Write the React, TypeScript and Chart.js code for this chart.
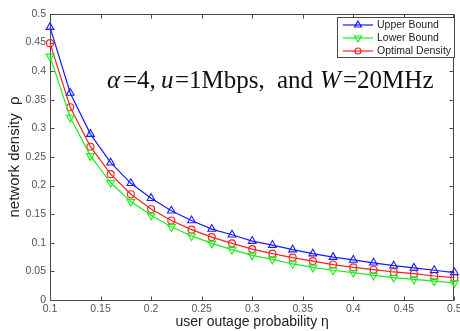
import React, { useEffect, useRef } from "react";
import { Chart, registerables } from "chart.js";

Chart.register(...registerables);

const eta = [0.1, 0.12, 0.14, 0.16, 0.18, 0.2, 0.22, 0.24, 0.26, 0.28, 0.3, 0.32, 0.34, 0.36, 0.38, 0.4, 0.42, 0.44, 0.46, 0.48, 0.5];
const upperBound = [0.477, 0.362, 0.29, 0.24, 0.204, 0.178, 0.156, 0.139, 0.124, 0.114, 0.103, 0.096, 0.088, 0.081, 0.075, 0.07, 0.065, 0.06, 0.056, 0.052, 0.048];
const lowerBound = [0.426, 0.319, 0.252, 0.205, 0.172, 0.148, 0.128, 0.112, 0.099, 0.088, 0.078, 0.071, 0.063, 0.057, 0.052, 0.048, 0.043, 0.039, 0.036, 0.033, 0.03];
const optimalDensity = [0.449, 0.337, 0.268, 0.22, 0.185, 0.159, 0.139, 0.123, 0.11, 0.099, 0.089, 0.081, 0.074, 0.068, 0.062, 0.057, 0.053, 0.049, 0.046, 0.042, 0.039];

const seriesNames = ["Upper Bound", "Lower Bound", "Optimal Density"];
const xTickValues = [0.1, 0.15, 0.2, 0.25, 0.3, 0.35, 0.4, 0.45, 0.5];
const yTickValues = [0, 0.05, 0.1, 0.15, 0.2, 0.25, 0.3, 0.35, 0.4, 0.45, 0.5];
const xTitle = "user outage probability \u03b7";
const yTitle = "network density  \u03c1";
const annotationParts: [string, boolean][] = [
  ["\u03b1", true],
  ["=4,", false],
  ["u", true],
  ["=1Mbps,", false],
  ["and", false],
  ["W", true],
  ["=20MHz", false],
];
const annotationStarts = [107, 123, 161, 175, 277, 320, 343];

const fmt = (v: number) => String(Number(v.toFixed(2)));

function drawMarker(ctx: CanvasRenderingContext2D, style: string, rot: number, x: number, y: number, r: number) {
  ctx.beginPath();
  if (style === "circle") {
    ctx.arc(x, y, r, 0, Math.PI * 2);
  } else {
    const s = rot === 180 ? -1 : 1;
    ctx.moveTo(x, y - s * r);
    ctx.lineTo(x + r * 0.866, y + s * r * 0.5);
    ctx.lineTo(x - r * 0.866, y + s * r * 0.5);
    ctx.closePath();
  }
  ctx.stroke();
}

const framePlugin = {
  id: "frame",
  beforeDatasetsDraw(chart: any) {
    const { ctx, chartArea, scales } = chart;
    const { left, right, top, bottom } = chartArea;
    ctx.save();
    ctx.strokeStyle = "#4a4a4a";
    ctx.lineWidth = 1;
    const L = Math.round(left) + 0.5;
    const R = Math.round(right) - 0.5;
    const T = Math.round(top) + 0.5;
    const B = Math.round(bottom) + 0.5;
    ctx.strokeRect(L, T, R - L, B - T);
    ctx.beginPath();
    for (const v of xTickValues) {
      const px = Math.round(scales.x.getPixelForValue(v)) + 0.5;
      ctx.moveTo(px, B);
      ctx.lineTo(px, B - 4);
      ctx.moveTo(px, T);
      ctx.lineTo(px, T + 4);
    }
    for (const v of yTickValues) {
      const py = Math.round(scales.y.getPixelForValue(v)) + 0.5;
      ctx.moveTo(L, py);
      ctx.lineTo(L + 4, py);
      ctx.moveTo(R, py);
      ctx.lineTo(R - 4, py);
    }
    ctx.stroke();
    ctx.restore();
  },
  afterDraw(chart: any) {
    const { ctx } = chart;
    ctx.save();
    // annotation text
    const base = 88;
    ctx.fillStyle = "#111";
    ctx.textBaseline = "alphabetic";
    ctx.textAlign = "left";
    annotationParts.forEach(([t, it], i) => {
      ctx.font = (it ? "italic " : "") + "25px 'Liberation Serif'";
      ctx.fillText(t, annotationStarts[i], base);
    });
    // legend
    const bx = 337, by = 17, bw = 117, bh = 40;
    ctx.fillStyle = "#fff";
    ctx.fillRect(bx, by, bw, bh);
    ctx.strokeStyle = "#4a4a4a";
    ctx.lineWidth = 1;
    ctx.strokeRect(bx + 0.5, by + 0.5, bw, bh);
    ctx.font = "10.5px 'Liberation Sans'";
    ctx.textBaseline = "middle";
    chart.data.datasets.forEach((ds: any, i: number) => {
      const cy = 25 + i * 13;
      ctx.strokeStyle = ds.borderColor;
      ctx.lineWidth = 1.2;
      ctx.beginPath();
      ctx.moveTo(343, cy);
      ctx.lineTo(373, cy);
      ctx.stroke();
      drawMarker(ctx, ds.pointStyle, ds.pointRotation || 0, 358, cy, ds.pointStyle === "circle" ? 3 : 4);
      ctx.fillStyle = "#222";
      ctx.fillText(ds.label, 377, cy + 0.5);
    });
    ctx.restore();
  },
};

export default function App() {
  const ref = useRef<HTMLCanvasElement>(null);
  useEffect(() => {
    const mk = (label: string, data: number[], color: string, style: string, rot: number, r: number) => ({
      label,
      data: eta.map((e, i) => ({ x: e, y: data[i] })),
      borderColor: color,
      backgroundColor: "transparent",
      pointBackgroundColor: "transparent",
      pointBorderColor: color,
      borderWidth: 1.2,
      pointBorderWidth: 1.1,
      pointStyle: style,
      pointRotation: rot,
      pointRadius: r,
      tension: 0,
      clip: false as any,
    });
    const chart = new Chart(ref.current!, {
      type: "line",
      data: {
        datasets: [
          mk(seriesNames[0], upperBound, "#1a1aff", "triangle", 0, 4.5),
          mk(seriesNames[1], lowerBound, "#1aee1a", "triangle", 180, 4.5),
          mk(seriesNames[2], optimalDensity, "#ff2020", "circle", 0, 3.5),
        ],
      },
      options: {
        animation: false,
        responsive: true,
        maintainAspectRatio: false,
        layout: { padding: { top: 14, right: 2, left: 0, bottom: 0 } },
        plugins: { legend: { display: false }, tooltip: { enabled: false } },
        scales: {
          x: {
            type: "linear",
            min: 0.1,
            max: 0.5,
            grid: { display: false, drawTicks: false },
            border: { display: false },
            afterBuildTicks: (s: any) => { s.ticks = xTickValues.map((v) => ({ value: v })); },
            afterFit: (s: any) => { s.height = 31; s.paddingLeft = 0; s.paddingRight = 0; },
            ticks: {
              autoSkip: false,
              maxRotation: 0,
              padding: 3,
              color: "#555",
              font: { family: "'Liberation Sans'", size: 10.5 },
              callback: (v: any) => fmt(Number(v)),
            },
            title: {
              display: true,
              text: xTitle,
              color: "#222",
              font: { family: "'Liberation Sans'", size: 14 },
              padding: { top: 0, bottom: 0 },
            },
          },
          y: {
            type: "linear",
            min: 0,
            max: 0.5,
            grid: { display: false, drawTicks: false },
            border: { display: false },
            afterBuildTicks: (s: any) => { s.ticks = yTickValues.map((v) => ({ value: v })); },
            afterFit: (s: any) => { s.width = 50; s.paddingTop = 0; s.paddingBottom = 0; },
            ticks: {
              autoSkip: false,
              padding: 4,
              color: "#555",
              font: { family: "'Liberation Sans'", size: 10.5 },
              callback: (v: any) => fmt(Number(v)),
            },
            title: {
              display: true,
              text: yTitle,
              color: "#222",
              font: { family: "'Liberation Sans'", size: 15 },
              padding: { top: 6, bottom: 0 },
            },
          },
        },
      },
      plugins: [framePlugin],
    });
    return () => chart.destroy();
  }, []);
  return (
    <div style={{ position: "fixed", left: 0, top: 0, width: 460, height: 331, background: "#fff" }}>
      <canvas ref={ref} />
    </div>
  );
}
